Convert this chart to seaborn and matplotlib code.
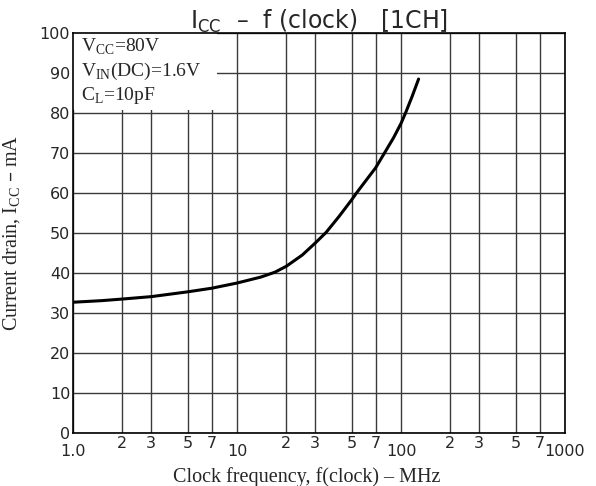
"""Icc vs clock frequency curve (1 channel), redrawn from a datasheet figure."""

import matplotlib
matplotlib.use("Agg")
import matplotlib.pyplot as plt
import matplotlib.ticker as mticker
from matplotlib.patches import Rectangle
import pandas as pd
import seaborn as sns

# values
freq_mhz = [1.0, 1.5, 2, 3, 5, 7, 10, 14, 17, 20, 25, 30, 35, 42, 50, 53.5, 60, 70, 79, 90,
            100, 107, 117, 128]
icc_ma = [32.7, 33.1, 33.5, 34.1, 35.3, 36.2, 37.5, 39.0, 40.2, 41.7, 44.5, 47.5, 50.2, 54.2,
          58.3, 60.0, 62.7, 66.3, 69.9, 73.8, 77.4, 80.2, 84.2, 88.5]

major_x = [1, 10, 100, 1000]
major_x_labels = ["1.0", "10", "100", "1000"]
minor_x = [m * d for d in (1, 10, 100) for m in (2, 3, 5, 7)]
minor_x_labels = ["2", "3", "5", "7"] * 3
y_ticks = list(range(0, 101, 10))

conditions = [r"V$_{\mathregular{CC}}$=80V",
              r"V$_{\mathregular{IN}}$(DC)=1.6V",
              r"C$_{\mathregular{L}}$=10pF"]

sns.set_theme(style="white")
plt.rcParams["font.family"] = ["DejaVu Sans"]

SERIF = "Liberation Serif"
GRID = "#3a3a3a"

df = pd.DataFrame({"f": freq_mhz, "icc": icc_ma})

fig = plt.figure(figsize=(5.96, 4.86), dpi=100)
ax = fig.add_axes([0.1225, 0.109, 0.8255, 0.823])

sns.lineplot(data=df, x="f", y="icc", ax=ax, color="black", linewidth=2.2, zorder=4)

ax.set_xscale("log")
ax.set_xlim(1, 1000)
ax.set_ylim(0, 100)

ax.xaxis.set_major_locator(mticker.FixedLocator(major_x))
ax.xaxis.set_major_formatter(mticker.FixedFormatter(major_x_labels))
ax.xaxis.set_minor_locator(mticker.FixedLocator(minor_x))
ax.xaxis.set_minor_formatter(mticker.FixedFormatter(minor_x_labels))
ax.set_yticks(y_ticks)

ax.tick_params(axis="x", which="major", length=0, pad=8, labelsize=11.5)
ax.tick_params(axis="x", which="minor", length=0, pad=2, labelsize=11.5)
ax.tick_params(axis="y", length=0, pad=2, labelsize=11.5)

ax.set_axisbelow(True)
ax.grid(True, which="both", axis="x", color=GRID, linewidth=1.0)
ax.grid(True, which="major", axis="y", color=GRID, linewidth=1.0)
for s in ax.spines.values():
    s.set_color("black")
    s.set_linewidth(1.2)

# white box for the test conditions, hides the grid behind it
ax.add_patch(Rectangle((0, 0.807), 0.292, 0.193, transform=ax.transAxes,
                       facecolor="white", edgecolor="none", zorder=2))
for i, line in enumerate(conditions):
    ax.text(0.017, 0.965 - i * 0.061, line, transform=ax.transAxes, family=SERIF,
            fontsize=14, va="center", ha="left", zorder=3)

ax.set_title(r"I$_{\mathregular{CC}}$  –  f (clock)   [1CH]", fontsize=17, pad=3)
ax.set_xlabel("Clock frequency, f(clock) – MHz", family=SERIF, fontsize=14.5)
ax.xaxis.set_label_coords(0.475, -0.085)
ax.set_ylabel(r"Current drain, I$_{\mathregular{CC}}$ – mA", family=SERIF, fontsize=14.5)
ax.yaxis.set_label_coords(-0.103, 0.5)

fig.savefig("out.png", dpi=100)
